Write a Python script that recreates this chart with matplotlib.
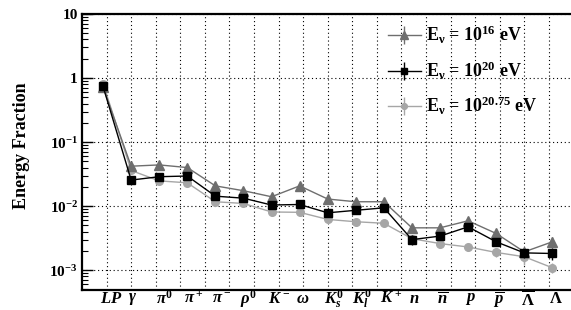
"""
Energy fraction carried by each secondary species, three neutrino energies
"""

import numpy as np
import matplotlib.pyplot as plt
from matplotlib.transforms import blended_transform_factory

plt.rcParams['font.family'] = ['Liberation Serif', 'DejaVu Serif']
plt.rcParams['font.weight'] = 'bold'
plt.rcParams['mathtext.fontset'] = 'custom'
plt.rcParams['mathtext.rm'] = 'Liberation Serif:bold'
plt.rcParams['mathtext.bf'] = 'Liberation Serif:bold'
plt.rcParams['mathtext.it'] = 'Liberation Serif:bold:italic'

species = ['$LP$', r'$\gamma$', r'$\pi^0$', r'$\pi^+$', r'$\pi^-$', r'$\rho^0$',
           '$K^-$', r'$\omega$', '$K^0_s$', '$K^0_l$', '$K^+$', '$n$',
           r'$\overline{n}$', '$p$', r'$\overline{p}$', r'$\overline{\Lambda}$', r'$\Lambda$']

frac_e16 = [0.72, 0.042, 0.044, 0.040, 0.0207, 0.0174, 0.0140, 0.0207, 0.0129,
            0.0117, 0.0117, 0.00458, 0.00458, 0.0059, 0.00374, 0.00193, 0.00277]
frac_e20 = [0.74, 0.0255, 0.0288, 0.0295, 0.0143, 0.0133, 0.0104, 0.0106, 0.00786,
            0.0086, 0.0094, 0.0030, 0.0034, 0.00475, 0.00277, 0.00186, 0.00182]
frac_e2075 = [0.82, 0.036, 0.0248, 0.0231, 0.0117, 0.0110, 0.0081, 0.0080, 0.0062,
              0.0057, 0.0054, 0.0031, 0.0026, 0.0023, 0.00189, 0.00162, 0.00109]

err_e16 = [0.03, 0.002, 0.002, 0.002, 0.001, 0.001, 0.0008, 0.001, 0.0007,
           0.0007, 0.0007, 0.0004, 0.0004, 0.0007, 0.0004, 0.0003, 0.0005]
err_e20 = [0.03, 0.0015, 0.0015, 0.0015, 0.0008, 0.0008, 0.0006, 0.0006, 0.0005,
           0.0005, 0.0006, 0.0005, 0.0004, 0.0006, 0.0004, 0.0003, 0.0004]
err_e2075 = [0.03, 0.0015, 0.0012, 0.0012, 0.0007, 0.0007, 0.0005, 0.0005, 0.0004,
             0.0004, 0.0004, 0.0003, 0.0003, 0.0003, 0.0003, 0.0004, 0.0002]

ytick_vals = [1e-3, 1e-2, 1e-1, 1, 10]
ytick_labels = ['10$^{-3}$', '10$^{-2}$', '10$^{-1}$', '1', '10']

fig = plt.figure(figsize=(5.71, 3.10), dpi=100)
ax = fig.add_axes([82 / 571, 20 / 310, 491.4 / 571, 276 / 310])

x = np.arange(len(species))

ax.errorbar(x, frac_e16, yerr=err_e16, color='#6e6e6e', marker='^', ms=7,
            lw=1, elinewidth=1, capsize=0, label=r'$\mathrm{E}_{\mathrm{\nu}}$ = 10$^{16}$ eV', zorder=3)
ax.errorbar(x, frac_e20, yerr=err_e20, color='black', marker='s', ms=5.5,
            lw=1, elinewidth=1, capsize=0, label=r'$\mathrm{E}_{\mathrm{\nu}}$ = 10$^{20}$ eV', zorder=4)
ax.errorbar(x, frac_e2075, yerr=err_e2075, color='#a6a6a6', marker='o', ms=5.5,
            lw=1, elinewidth=1, capsize=0, label=r'$\mathrm{E}_{\mathrm{\nu}}$ = 10$^{20.75}$ eV', zorder=2)

ax.set_yscale('log')
ax.set_ylim(10 ** -3.31, 10)
ax.set_xlim(-0.75, 16.75)

ax.set_yticks(ytick_vals, labels=ytick_labels)
ax.tick_params(axis='y', which='major', direction='in', length=8, width=1,
               labelsize=11, pad=3)
ax.tick_params(axis='y', which='minor', direction='in', length=4, width=0.8)

# vertical grid follows a 20-division axis, not the categories
ax.set_xticks(-0.75 + 0.875 * np.arange(1, 20))
ax.tick_params(axis='x', which='both', length=0, labelbottom=False)
ax.grid(True, which='major', color='black', linestyle=(0, (1, 2.5)), lw=0.8)

for s in ['left', 'bottom', 'top']:
    ax.spines[s].set_linewidth(1.6)
ax.spines['right'].set_visible(False)

trans = blended_transform_factory(ax.transData, ax.transAxes)
for i, lab in enumerate(species):
    ax.text(i - 0.12, -0.033, lab, transform=trans, ha='left', va='center',
            fontsize=12)

fig.text(22 / 571, 0.53, 'Energy Fraction', rotation=90, ha='center',
         va='center', fontsize=13, fontweight='bold')

ax.legend(loc='upper left', bbox_to_anchor=(388 / 571, 1 - 24 / 310),
          bbox_transform=fig.transFigure, frameon=False, fontsize=13,
          handlelength=1.8, handletextpad=0.3, labelspacing=0.75,
          markerscale=0.75, borderpad=0, borderaxespad=0)

fig.savefig('out.png', dpi=100)
